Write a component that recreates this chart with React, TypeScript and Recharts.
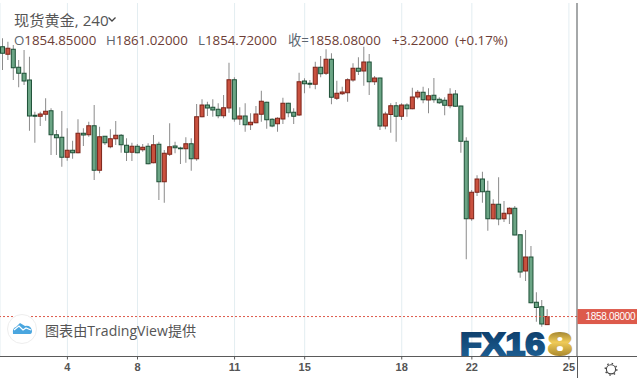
import { ComposedChart, Bar, XAxis, YAxis, CartesianGrid, ReferenceLine } from 'recharts';

// 4h gold candles, left to right. Red = close above open.
const opens = [
  1966.0, 1963.0, 1965.0, 1957.8, 1955.4, 1952.7, 1938.6, 1938.2, 1939.0, 1940.4,
  1930.8, 1929.8, 1921.8, 1924.6, 1923.6, 1931.4, 1930.8, 1934.4, 1916.6, 1930.2,
  1926.0, 1929.2, 1930.6, 1926.6, 1923.8, 1926.2, 1924.8, 1926.2, 1919.6, 1927.0,
  1912.0, 1923.0, 1926.3, 1925.5, 1925.2, 1927.2, 1921.2, 1938.0, 1942.7, 1941.8,
  1941.0, 1938.4, 1941.5, 1952.8, 1937.1, 1938.3, 1934.8, 1935.6, 1939.0, 1943.8,
  1937.0, 1935.2, 1937.1, 1943.4, 1939.8, 1938.7, 1952.3, 1951.4, 1951.0, 1957.8,
  1955.4, 1961.0, 1945.4, 1947.2, 1947.6, 1952.7, 1957.4, 1956.3, 1959.9, 1952.0,
  1953.5, 1934.3, 1938.9, 1942.4, 1938.2, 1942.7, 1941.2, 1945.9, 1947.8, 1944.7,
  1946.6, 1945.0, 1944.6, 1942.4, 1947.1, 1942.3, 1928.2, 1897.2, 1907.8, 1913.1,
  1908.2, 1897.2, 1903.0, 1897.2, 1899.2, 1901.4, 1890.8, 1876.3, 1881.9, 1863.8,
  1862.0, 1854.85,
];
const highs = [
  1969.4, 1968.0, 1966.7, 1960.7, 1964.7, 1962.0, 1940.0, 1940.0, 1945.4, 1941.4,
  1932.7, 1940.3, 1933.4, 1928.4, 1937.0, 1933.4, 1936.0, 1942.7, 1934.0, 1930.3,
  1933.0, 1936.3, 1931.1, 1929.4, 1927.6, 1927.1, 1927.1, 1927.4, 1930.7, 1928.0,
  1924.7, 1935.4, 1928.0, 1926.0, 1929.8, 1929.4, 1943.1, 1945.0, 1944.0, 1945.0,
  1943.4, 1946.7, 1959.6, 1953.8, 1941.8, 1943.4, 1939.4, 1942.3, 1948.4, 1944.0,
  1937.4, 1937.8, 1945.6, 1943.6, 1941.4, 1955.6, 1953.4, 1952.7, 1960.0, 1962.3,
  1965.0, 1963.4, 1952.4, 1950.0, 1953.4, 1959.4, 1961.8, 1966.0, 1963.1, 1954.3,
  1953.6, 1940.0, 1943.4, 1943.9, 1943.4, 1943.4, 1949.6, 1948.7, 1950.0, 1949.4,
  1953.5, 1945.8, 1945.8, 1949.4, 1948.7, 1942.4, 1929.8, 1908.7, 1914.6, 1916.0,
  1912.4, 1905.0, 1913.8, 1904.3, 1901.8, 1902.3, 1890.8, 1892.7, 1886.3, 1867.8,
  1864.7, 1861.02,
];
const lows = [
  1956.7, 1960.7, 1952.7, 1949.8, 1950.7, 1932.4, 1927.6, 1934.3, 1936.4, 1922.7,
  1922.7, 1918.0, 1920.4, 1921.2, 1923.4, 1926.3, 1930.0, 1912.7, 1915.4, 1926.7,
  1925.4, 1926.7, 1923.6, 1920.3, 1920.3, 1923.4, 1924.0, 1919.0, 1919.4, 1904.7,
  1903.6, 1922.3, 1923.4, 1919.1, 1919.6, 1916.4, 1920.4, 1937.8, 1938.3, 1938.0,
  1937.4, 1937.4, 1939.6, 1936.0, 1934.7, 1932.0, 1932.7, 1935.4, 1936.0, 1933.2,
  1933.8, 1932.0, 1935.1, 1937.8, 1935.1, 1938.3, 1947.4, 1949.4, 1949.0, 1953.8,
  1954.7, 1943.0, 1944.7, 1946.7, 1944.0, 1952.0, 1954.7, 1950.4, 1946.7, 1950.7,
  1932.7, 1933.0, 1931.6, 1928.0, 1936.7, 1938.0, 1941.0, 1945.0, 1943.4, 1939.4,
  1943.6, 1943.1, 1938.6, 1941.4, 1942.0, 1923.6, 1881.0, 1896.4, 1906.3, 1903.6,
  1892.4, 1897.0, 1894.6, 1895.9, 1895.1, 1890.6, 1873.6, 1872.3, 1863.4, 1856.0,
  1854.0, 1854.72,
];
const closes = [
  1963.4, 1965.4, 1957.6, 1955.4, 1952.3, 1938.3, 1938.2, 1939.1, 1940.2, 1930.8,
  1929.6, 1921.8, 1924.6, 1923.6, 1931.4, 1930.7, 1934.4, 1916.6, 1930.0, 1927.6,
  1929.2, 1930.6, 1926.8, 1923.8, 1926.2, 1923.6, 1925.8, 1919.2, 1926.8, 1912.0,
  1923.4, 1926.0, 1925.6, 1925.2, 1927.2, 1921.2, 1938.0, 1942.7, 1941.5, 1940.7,
  1938.4, 1941.6, 1952.8, 1937.1, 1938.3, 1934.8, 1935.8, 1939.1, 1944.2, 1936.8,
  1934.3, 1937.4, 1943.4, 1939.6, 1938.2, 1952.0, 1951.2, 1951.0, 1957.8, 1955.2,
  1961.0, 1945.8, 1947.4, 1947.9, 1952.8, 1957.4, 1956.2, 1959.9, 1952.0, 1953.5,
  1934.3, 1939.1, 1942.4, 1938.2, 1942.7, 1941.2, 1945.9, 1947.8, 1944.8, 1946.4,
  1944.8, 1943.6, 1942.6, 1947.0, 1942.2, 1928.2, 1897.2, 1907.8, 1913.1, 1908.0,
  1897.2, 1903.0, 1897.1, 1899.4, 1901.4, 1890.7, 1875.9, 1881.9, 1863.6, 1861.7,
  1855.1, 1858.08,
];

// the time axis runs a few empty slots past the last candle
const slotCount = 107;
const tickSlots = [12, 25, 43, 56, 74, 87, 105];
const tickLabels = ['4', '8', '11', '15', '18', '22', '25'];
const lastPrice = 1858.08;

const rows = Array.from({ length: slotCount }, (_, i) => ({
  slot: i,
  open: opens[i],
  high: highs[i],
  low: lows[i],
  close: closes[i],
  range: i < opens.length ? [lows[i], highs[i]] : null,
}));

const UP_FILL = '#c9513f';
const UP_EDGE = '#7c2318';
const DOWN_FILL = '#6ba585';
const DOWN_EDGE = '#1d4f36';
const WICK = '#8b8b8b';
const AXIS = '#5a5a5a';
const LAST = '#dd5a4b';
const TEXT_FONT = '"Open Sans", "Noto Sans CJK SC", sans-serif';

function Candle({ x, y, width, height, payload }: any) {
  if (payload.open === undefined) return null;
  const { open, high, low, close } = payload;
  const perUnit = height / (high - low);
  const yOf = (p: number) => y + (high - p) * perUnit;
  const cx = x + width / 2;
  const up = close >= open;
  const top = yOf(Math.max(open, close));
  const bottom = yOf(Math.min(open, close));
  return (
    <g>
      <line x1={cx} x2={cx} y1={y} y2={y + height} stroke={WICK} strokeWidth={1} />
      <rect x={cx - 2} y={top} width={4} height={Math.max(bottom - top, 0.5)}
        fill={up ? UP_FILL : DOWN_FILL} stroke={up ? UP_EDGE : DOWN_EDGE} strokeWidth={1} />
    </g>
  );
}

function LastPriceTick({ x, y }: any) {
  return (
    <g>
      <rect x={x + 0.5} y={y - 7.5} width={60} height={15} fill={LAST} />
      <text x={x + 8.5} y={y + 3.5} fill="#fff" fontSize={10} fontFamily="Liberation Sans"
        textLength={50} lengthAdjust="spacing">
        {lastPrice.toFixed(5)}
      </text>
    </g>
  );
}

function Legend() {
  const val = '#6d3d36';
  const lab = '#5c6670';
  const line2 = { fontFamily: TEXT_FONT, fontSize: 13.3 };
  return (
    <g>
      <text x={14} y={25.5} fontFamily={TEXT_FONT} fontSize={15.2} fill="#555">现货黄金, 240</text>
      <path d="M108.5 17.5 L112 21 L115.5 17.5" fill="none" stroke="#444" strokeWidth={1.3} />
      <text x={14} y={45} {...line2} fill={val}><tspan fill={lab}>O</tspan>1854.85000</text>
      <text x={106} y={45} {...line2} fill={val}><tspan fill={lab}>H</tspan>1861.02000</text>
      <text x={198} y={45} {...line2} fill={val}><tspan fill={lab}>L</tspan>1854.72000</text>
      <text x={288} y={45} {...line2} fill={val}><tspan fill={lab}>收=</tspan>1858.08000</text>
      <text x={392} y={45} {...line2} fill={val}>+3.22000</text>
      <text x={455} y={45} {...line2} fill={val}>(+0.17%)</text>
    </g>
  );
}

function Decorations() {
  return (
    <svg width={637} height={378} style={{ position: 'absolute', left: 0, top: 0 }}>
      <defs>
        <linearGradient id="fxBlue" x1="0" y1="0" x2="0" y2="1">
          <stop offset="0" stopColor="#0c3a66" />
          <stop offset="1" stopColor="#1f6398" />
        </linearGradient>
        <linearGradient id="fxGold" x1="0" y1="0" x2="0" y2="1">
          <stop offset="0" stopColor="#7d6420" />
          <stop offset="0.45" stopColor="#f0cb58" />
          <stop offset="1" stopColor="#8f6f1c" />
        </linearGradient>
      </defs>

      {/* axis stubs past the plot area */}
      <line x1={577.5} x2={577.5} y1={356} y2={378} stroke={AXIS} />
      <line x1={577} x2={637} y1={356.5} y2={356.5} stroke={AXIS} />

      <Legend />

      {/* TradingView badge */}
      <circle cx={22} cy={329} r={14.5} fill="#fff" stroke="#eeeeee" />
      <path d="M13 334 Q12 328 16 327 L20 323 L25 326 Q31 325 32 331 Q32 334 30 334 Z" fill="#4aa6df" />
      <path d="M14 330 L19 326 L23 330 L26 328 L31 330" fill="none" stroke="#fff" strokeWidth={1.3} />
      <text x={45} y={335.5} fontFamily={TEXT_FONT} fontSize={14.1} fill="#555">图表由TradingView提供</text>

      {/* FX168 mark */}
      <text x={460} y={354.5} fontFamily="Liberation Sans" fontWeight={700} fontSize={31}
        textLength={85} lengthAdjust="spacingAndGlyphs" fill="url(#fxBlue)" stroke="url(#fxBlue)" strokeWidth={2}>FX16</text>
      <text x={548} y={354.5} fontFamily="Liberation Sans" fontWeight={700} fontSize={31}
        textLength={24} lengthAdjust="spacingAndGlyphs" fill="url(#fxGold)" stroke="url(#fxGold)" strokeWidth={2}>8</text>

      {/* settings gear */}
      <circle cx={611} cy={369.3} r={4.6} fill="none" stroke="#444" strokeWidth={1.1} />
      <circle cx={611} cy={369.3} r={5.8} fill="none" stroke="#444" strokeWidth={1.4} strokeDasharray="1.5 3.05" />
    </svg>
  );
}

export default function App() {
  return (
    <div style={{ position: 'absolute', left: 0, top: 0, width: 637, height: 378, overflow: 'hidden', background: '#fff' }}>
      <ComposedChart width={637} height={378} data={rows} barCategoryGap={0}
        margin={{ top: 3, right: 0, bottom: 0, left: 0 }}>
        <CartesianGrid vertical horizontal={false} stroke="#e3edf1" />
        <XAxis dataKey="slot" ticks={tickSlots} interval={0} height={21.5} stroke={AXIS} tickSize={3} tickMargin={4}
          tick={{ fill: '#555', fontSize: 11, fontWeight: 600, fontFamily: 'Liberation Sans' }}
          tickFormatter={(v: number) => tickLabels[tickSlots.indexOf(v)]} />
        <YAxis orientation="right" width={60} domain={[1842.1, 1983.5]} allowDataOverflow ticks={[lastPrice]}
          stroke={AXIS} tickLine={false} tickSize={0} tickMargin={0} tick={<LastPriceTick />} />
        <Bar dataKey="range" isAnimationActive={false} shape={<Candle />} />
        <ReferenceLine y={lastPrice} stroke={LAST} strokeDasharray="2 2" />
      </ComposedChart>
      <Decorations />
    </div>
  );
}
